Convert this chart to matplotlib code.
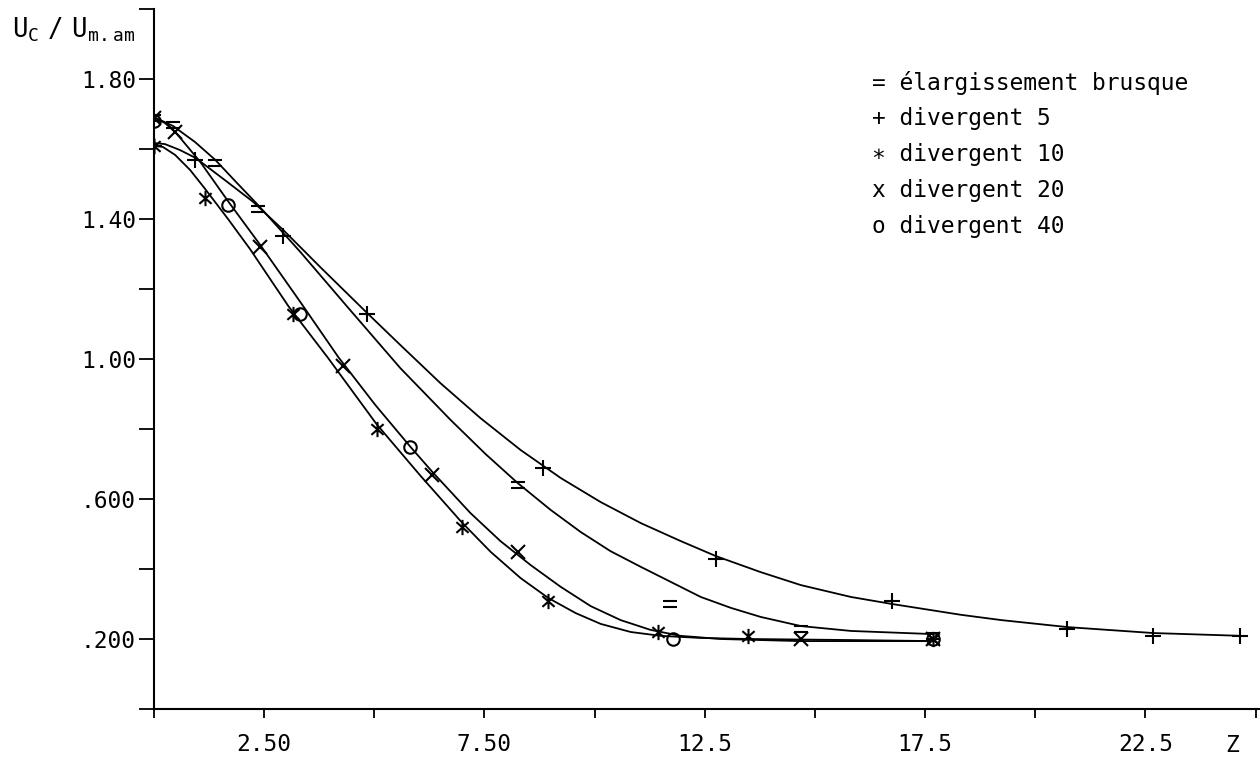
import numpy as np
import matplotlib
matplotlib.use("Agg")
import matplotlib.pyplot as plt
from matplotlib.path import Path

plt.rcParams['font.family'] = ['DejaVu Sans Mono', 'DejaVu Sans']
plt.rcParams['mathtext.fontset'] = 'custom'
plt.rcParams['mathtext.rm'] = 'DejaVu Sans Mono'

# courbes tracees
eq_cx = [0, 0.43, 0.93, 1.39, 1.86, 2.36, 3.32, 4.45, 5.59, 6.73, 7.52, 8.25, 9.00, 9.68,
         10.36, 11.05, 11.73, 12.41, 13.09, 13.77, 14.68, 15.82, 17.68]
eq_cy = [1.691, 1.666, 1.620, 1.569, 1.506, 1.440, 1.306, 1.140, 0.974, 0.826, 0.729, 0.646,
         0.569, 0.506, 0.451, 0.406, 0.363, 0.320, 0.289, 0.263, 0.237, 0.223, 0.214]

plus_cx = [0, 0.25, 0.59, 0.95, 1.61, 2.25, 2.93, 3.77, 4.84, 5.59, 6.50, 7.41, 8.32, 9.23,
           10.14, 11.05, 11.95, 12.75, 13.77, 14.68, 15.82, 16.75, 18.32, 19.23, 20.73, 22.68, 24.68]
plus_cy = [1.617, 1.614, 1.597, 1.574, 1.511, 1.449, 1.369, 1.263, 1.131, 1.040, 0.931, 0.831,
           0.740, 0.660, 0.591, 0.531, 0.480, 0.437, 0.391, 0.354, 0.320, 0.300, 0.269, 0.254,
           0.234, 0.217, 0.209]

cross_cx = [0, 0.25, 0.48, 1.05, 1.68, 2.41, 3.32, 4.18, 5.02, 5.82, 6.32, 7.18, 7.86, 8.55,
            9.23, 9.91, 10.59, 11.27, 11.95, 12.86, 14.68, 17.68]
cross_cy = [1.691, 1.674, 1.649, 1.563, 1.451, 1.326, 1.163, 1.006, 0.869, 0.749, 0.677, 0.560,
            0.480, 0.411, 0.349, 0.294, 0.254, 0.226, 0.209, 0.200, 0.194, 0.194]

star_cx = [0, 0.20, 0.48, 0.82, 1.16, 1.68, 2.18, 3.05, 3.95, 5.05, 6.05, 6.98, 7.64, 8.32,
           8.95, 9.57, 10.14, 10.82, 11.50, 12.41, 13.50, 15.82, 17.68]
star_cy = [1.609, 1.606, 1.583, 1.540, 1.486, 1.400, 1.314, 1.151, 1.003, 0.814, 0.666, 0.534,
           0.449, 0.374, 0.317, 0.274, 0.243, 0.220, 0.209, 0.203, 0.200, 0.197, 0.194]

# points de mesure
eq_x = [0, 0.43, 1.39, 2.36, 8.25, 11.70, 14.68, 17.68]
eq_y = [1.69, 1.67, 1.56, 1.43, 0.64, 0.30, 0.23, 0.21]

plus_x = [0, 0.93, 2.93, 4.84, 8.82, 12.75, 16.75, 20.73, 22.68, 24.64]
plus_y = [1.61, 1.57, 1.35, 1.13, 0.69, 0.43, 0.31, 0.23, 0.21, 0.21]

star_x = [0, 1.16, 3.16, 5.05, 6.98, 8.95, 11.43, 13.48, 17.68]
star_y = [1.61, 1.46, 1.13, 0.80, 0.52, 0.31, 0.22, 0.21, 0.20]

cross_x = [0, 0.48, 2.41, 4.30, 6.32, 8.25, 14.68, 17.68]
cross_y = [1.69, 1.65, 1.32, 0.98, 0.67, 0.45, 0.20, 0.20]

circ_x = [0, 1.68, 3.32, 5.82, 11.77, 17.68]
circ_y = [1.68, 1.44, 1.13, 0.75, 0.20, 0.20]

legend_lines = ["= élargissement brusque", "+ divergent 5", "\u2217 divergent 10",
                "x divergent 20", "o divergent 40"]

xticks = np.arange(0, 25.01, 2.5)
xtick_labels = ["", "2.50", "", "7.50", "", "12.5", "", "17.5", "", "22.5", ""]
yticks = np.arange(0, 2.01, 0.2)
ytick_labels = ["", ".200", "", ".600", "", "1.00", "", "1.40", "", "1.80", ""]

# symboles du traceur
M, L = Path.MOVETO, Path.LINETO
eq_mark = Path([(-1, 0.4), (1, 0.4), (-1, -0.4), (1, -0.4)], [M, L, M, L])
star_mark = Path([(0, -1), (0, 1), (-0.8, -0.7), (0.8, 0.7), (-0.8, 0.7), (0.8, -0.7)],
                 [M, L, M, L, M, L])

fig = plt.figure(figsize=(12.6, 7.63), dpi=100)
ax = fig.add_axes([154 / 1260, 1 - 709 / 763, 1106 / 1260, 700 / 763])

lw = 1.3
ax.plot(eq_cx, eq_cy, color='black', lw=lw)
ax.plot(plus_cx, plus_cy, color='black', lw=lw)
ax.plot(cross_cx, cross_cy, color='black', lw=lw)
ax.plot(star_cx, star_cy, color='black', lw=lw)

ax.plot(eq_x, eq_y, ls='none', marker=eq_mark, ms=10, mec='black', mew=1.5)
ax.plot(plus_x, plus_y, ls='none', marker='+', ms=12, mec='black', mew=1.5)
ax.plot(star_x, star_y, ls='none', marker=star_mark, ms=11, mec='black', mew=1.5)
ax.plot(cross_x, cross_y, ls='none', marker='x', ms=10, mec='black', mew=1.5)
ax.plot(circ_x, circ_y, ls='none', marker='o', ms=9, mfc='none', mec='black', mew=1.5)

ax.set_xlim(0, 25.1)
ax.set_ylim(0, 2.0)
ax.set_xticks(xticks)
ax.set_xticklabels(xtick_labels)
ax.set_yticks(yticks)
ax.set_yticklabels(ytick_labels)

for s in ['top', 'right']:
    ax.spines[s].set_visible(False)
for s in ['left', 'bottom']:
    ax.spines[s].set_linewidth(1.5)
ax.tick_params(axis='y', direction='out', length=11, width=1.3, pad=2, labelsize=16.5)
ax.tick_params(axis='x', direction='out', length=6.5, width=1.3, pad=11, labelsize=16.5)

fig.text(12 / 1260, 1 - 30 / 763, r'$\mathrm{U_C\ /\ U_{m.am}}$', fontsize=18.5,
         ha='left', va='center')
fig.text(1232 / 1260, 1 - 745 / 763, 'Z', fontsize=16.5, ha='center', va='center')

for i, txt in enumerate(legend_lines):
    fig.text(872 / 1260, 1 - (83 + 36 * i) / 763, txt, fontsize=16.5,
             ha='left', va='center')

fig.savefig("out.png", dpi=100)
